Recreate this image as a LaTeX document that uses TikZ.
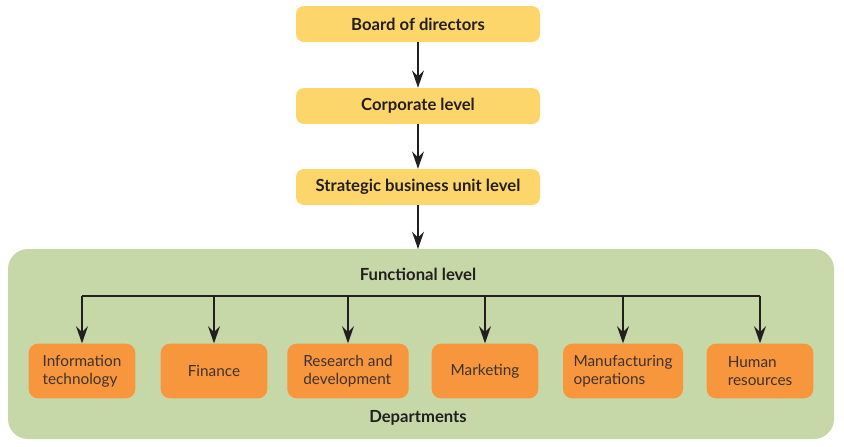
\documentclass[tikz,border=0pt]{standalone}
\usepackage{fontspec}
\setmainfont{Lato}
\usepackage{tikz}
\usetikzlibrary{arrows.meta,positioning,calc}
\definecolor{ink}{HTML}{231F20}
\definecolor{deptink}{HTML}{3D3230}
\definecolor{gold}{HTML}{FDD66B}
\definecolor{sage}{HTML}{C7D8A8}
\definecolor{tang}{HTML}{F7963C}
\tikzset{arr/.style={-{Stealth[length=13pt,width=9pt,inset=4.5pt]},line width=1.1pt,draw=ink},
  level/.style={rounded corners=6pt,fill=gold,minimum width=183pt,minimum height=27pt,font=\fontsize{12.5}{14}\selectfont\bfseries,text=ink},
  dept/.style={rounded corners=7pt,fill=tang,minimum height=41pt,align=left,font=\fontsize{11.5}{13.5}\selectfont,text=deptink},
  tag/.style={font=\fontsize{12.5}{14}\selectfont\bfseries,text=ink}}

\begin{document}
\begin{tikzpicture}[x=0.75pt,y=-0.75pt]
\useasboundingbox (0,0) rectangle (844,447);
% upper levels
\node[level] (board) at (418,24) {Board of directors};
\node[level] (corp) at (418,106) {Corporate level};
\node[level] (sbu) at (418,187) {Strategic business unit level};
% functional level
\fill[sage,rounded corners=15pt] (8,249) rectangle (834,439);
\coordinate (func) at (418,249);
\node[tag] (funclabel) at (418,274) {Functional level};
\node[tag] (deplabel) at (418,418) {Departments};
\node[dept,minimum width=80pt] (it) at (82,371) {Information\\technology};
\node[dept,minimum width=80pt] (fin) at (214,371) {Finance};
\node[dept,minimum width=91pt] (rnd) at (348,371) {Research and\\development};
\node[dept,minimum width=80pt] (mkt) at (485,371) {Marketing};
\node[dept,minimum width=90pt] (mfg) at (623,371) {Manufacturing\\operations};
\node[dept,minimum width=80pt] (hr) at (760,371) {Human\\resources};
\coordinate (bus) at (418,296);
% connectors
\draw[arr] (board) -- (corp);
\draw[arr] (corp) -- (sbu);
\draw[arr] (sbu) -- (func);
\draw[line width=1.1pt,draw=ink] (it.north |- bus) -- (hr.north |- bus);
\foreach \d in {it,fin,rnd,mkt,mfg,hr}
  \draw[arr] (\d.north |- bus) -- (\d.north);
\end{tikzpicture}
\end{document}
